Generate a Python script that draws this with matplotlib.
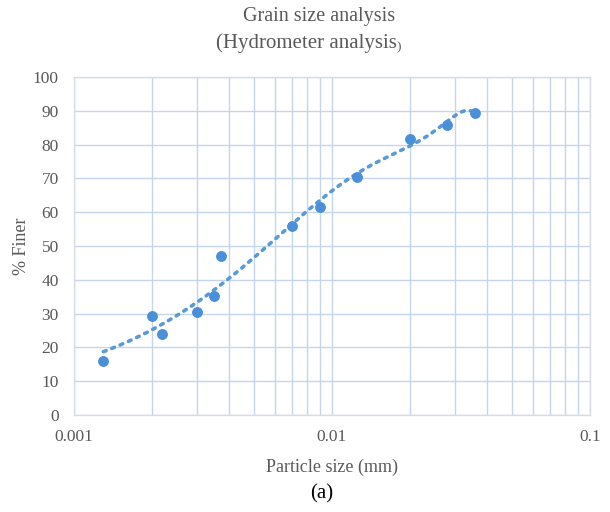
import numpy as np
import matplotlib
matplotlib.use("Agg")
import matplotlib.pyplot as plt
from matplotlib.ticker import FixedLocator, NullFormatter, FixedFormatter

particle_size = [0.0013, 0.0020, 0.0022, 0.0030, 0.0035, 0.0037, 0.0070, 0.0090, 0.0125, 0.0200, 0.0280, 0.0360]
percent_finer = [16.0, 29.3, 24.0, 30.5, 35.2, 47.0, 55.9, 61.5, 70.4, 81.7, 85.8, 89.3]
x_ticks = [0.001, 0.01, 0.1]
x_tick_labels = ["0.001", "0.01", "0.1"]
y_ticks = list(range(0, 101, 10))

FONT = ["Liberation Serif", "DejaVu Serif"]
plt.rcParams['font.family'] = FONT

fig = plt.figure(figsize=(6.1, 5.12), dpi=100)
ax = fig.add_axes([0.1213, 0.1895, 0.967 - 0.1213, 0.8496 - 0.1895])

grid_c = "#c6d6ea"
text_c = "#595959"
ax.set_xscale("log")
ax.set_xlim(0.001, 0.1)
ax.set_ylim(0, 100)
ax.xaxis.set_major_locator(FixedLocator(x_ticks))
ax.xaxis.set_major_formatter(FixedFormatter(x_tick_labels))
minors = [m * d for d in (0.001, 0.01) for m in range(2, 10)]
ax.xaxis.set_minor_locator(FixedLocator(minors))
ax.xaxis.set_minor_formatter(NullFormatter())
ax.set_yticks(y_ticks)
ax.grid(True, which="both", axis="x", color=grid_c, lw=1.0)
ax.grid(True, which="major", axis="y", color=grid_c, lw=1.0)
ax.set_axisbelow(True)
for s in ax.spines.values():
    s.set_color("#d6dde6")
    s.set_linewidth(1.0)
ax.tick_params(which="both", length=0, labelsize=12.5, colors=text_c)
ax.tick_params(axis="y", pad=11)
ax.tick_params(axis="x", pad=10)

# polynomial trendline fitted to the data (Excel-style, linear x)
xs = np.array(particle_size)
ys = np.array(percent_finer)
coef = np.polyfit(xs, ys, 4)
xf = np.logspace(np.log10(xs.min()), np.log10(xs.max()), 300)
ax.plot(xf, np.polyval(coef, xf), ls=(0, (0.8, 1.7)), lw=2.6, color="#5b9bd5",
        dash_capstyle="round", zorder=2)
ax.plot(xs, ys, "o", ms=6.8, color="#4a90d9", zorder=3)

ax.set_xlabel("Particle size (mm)", fontsize=13, color=text_c, labelpad=10)
ax.set_ylabel("% Finer", fontsize=13, color=text_c, labelpad=2)

fig.text(0.523, 0.968, "Grain size analysis", ha="center", va="center", fontsize=14.5, color=text_c)
t2 = fig.text(0.502, 0.915, "(Hydrometer analysis", ha="center", va="center", fontsize=15, color=text_c)
fig.canvas.draw()
bb = t2.get_window_extent()
fig.text(bb.x1 / fig.bbox.width, 0.907, ")", ha="left", va="center", fontsize=9.5, color=text_c)
fig.text(0.528, 0.035, "(a)", ha="center", va="center", fontsize=15, color="black")

fig.savefig("out.png", dpi=100)
